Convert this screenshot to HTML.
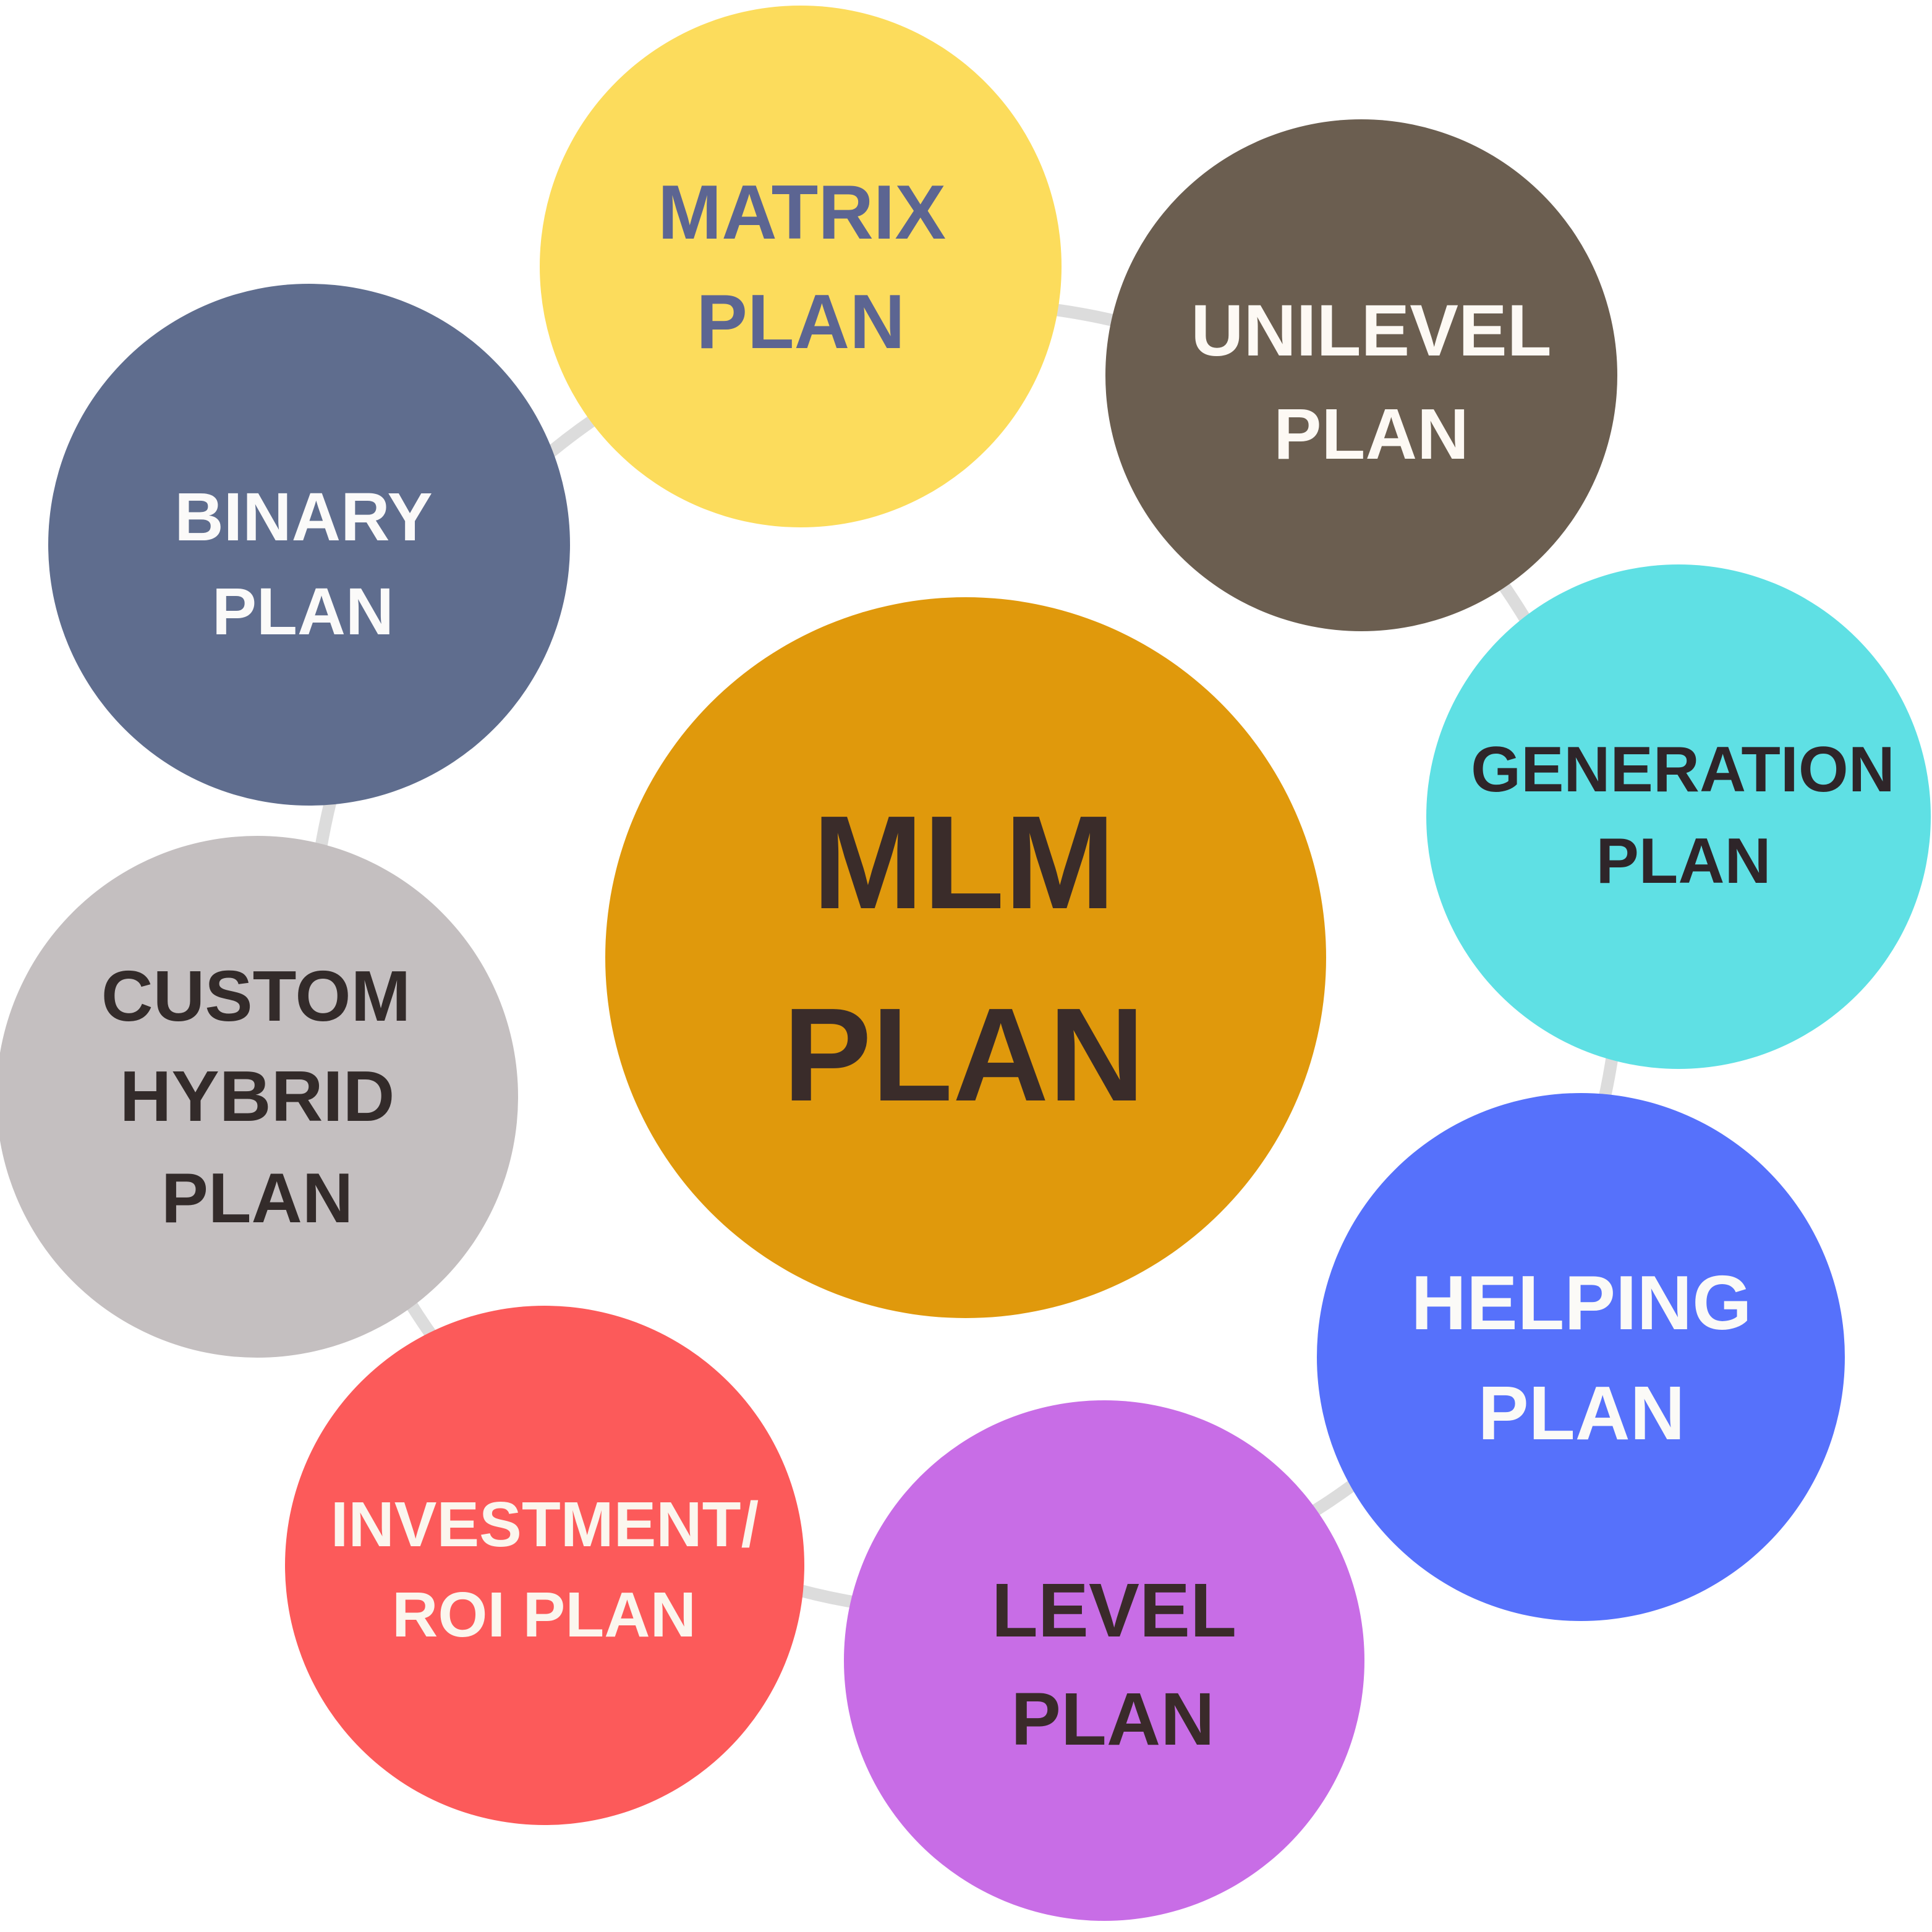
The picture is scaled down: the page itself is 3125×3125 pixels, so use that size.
<!DOCTYPE html>
<html>
<head>
<meta charset="utf-8">
<style>
  html, body { margin: 0; padding: 0; background: #ffffff; }
  svg { display: block; }
  text { font-family: "Liberation Sans", Arial, sans-serif; font-weight: bold; text-anchor: middle; }
</style>
</head>
<body>
<svg width="3125" height="3125" viewBox="0 0 3125 3125" xmlns="http://www.w3.org/2000/svg">
  <rect width="3125" height="3125" fill="#ffffff"/>
  <!-- connector ring -->
  <circle cx="1562" cy="1549" r="1058" fill="none" stroke="#dcdcdc" stroke-width="20"/>

  <!-- center -->
  <circle cx="1562" cy="1549" r="583" fill="#e0990c"/>
  <text x="1559" y="1469" font-size="215" fill="#3a2c2a">MLM</text>
  <text x="1559" y="1780" font-size="215" fill="#3a2c2a">PLAN</text>

  <!-- Matrix -->
  <circle cx="1295" cy="431" r="422" fill="#fcdc5c"/>
  <text x="1297" y="386" font-size="124" fill="#5c6592">MATRIX</text>
  <text x="1295" y="563" font-size="124" fill="#5c6592">PLAN</text>

  <!-- Unilevel -->
  <circle cx="2202" cy="607" r="414" fill="#6b5e50"/>
  <text x="2218" y="575" font-size="118" fill="#fdf9f4">UNILEVEL</text>
  <text x="2218" y="742" font-size="116" fill="#fdf9f4">PLAN</text>

  <!-- Generation -->
  <circle cx="2715" cy="1321" r="408" fill="#5fe0e4"/>
  <text x="2722" y="1280" font-size="104" fill="#2e2529">GENERATION</text>
  <text x="2723" y="1428" font-size="104" fill="#2e2529">PLAN</text>

  <!-- Helping -->
  <circle cx="2557" cy="2195" r="427" fill="#5671fb"/>
  <text x="2558" y="2150" font-size="124" fill="#fbfaf7">HELPING</text>
  <text x="2558" y="2328" font-size="123" fill="#fbfaf7">PLAN</text>

  <!-- Level -->
  <circle cx="1786" cy="2686" r="421" fill="#c86de6"/>
  <text x="1802" y="2647" font-size="123" fill="#3a2a2a">LEVEL</text>
  <text x="1800" y="2822" font-size="121" fill="#3a2a2a">PLAN</text>

  <!-- Investment -->
  <circle cx="881" cy="2532" r="420" fill="#fc5a5a"/>
  <text x="881" y="2501" font-size="103" fill="#fbf6ee">INVESTMENT/</text>
  <text x="880" y="2647" font-size="103" fill="#fbf6ee">ROI PLAN</text>

  <!-- Custom -->
  <circle cx="416" cy="1774" r="422" fill="#c4bfc0"/>
  <text x="414" y="1651" font-size="116" fill="#332b2a">CUSTOM</text>
  <text x="416" y="1813" font-size="116" fill="#332b2a">HYBRID</text>
  <text x="416" y="1977" font-size="114" fill="#332b2a">PLAN</text>

  <!-- Binary -->
  <circle cx="500" cy="881" r="422" fill="#5f6d8e"/>
  <text x="491" y="874" font-size="110" fill="#fbfaf9">BINARY</text>
  <text x="490" y="1026" font-size="108" fill="#fbfaf9">PLAN</text>
</svg>
</body>
</html>
